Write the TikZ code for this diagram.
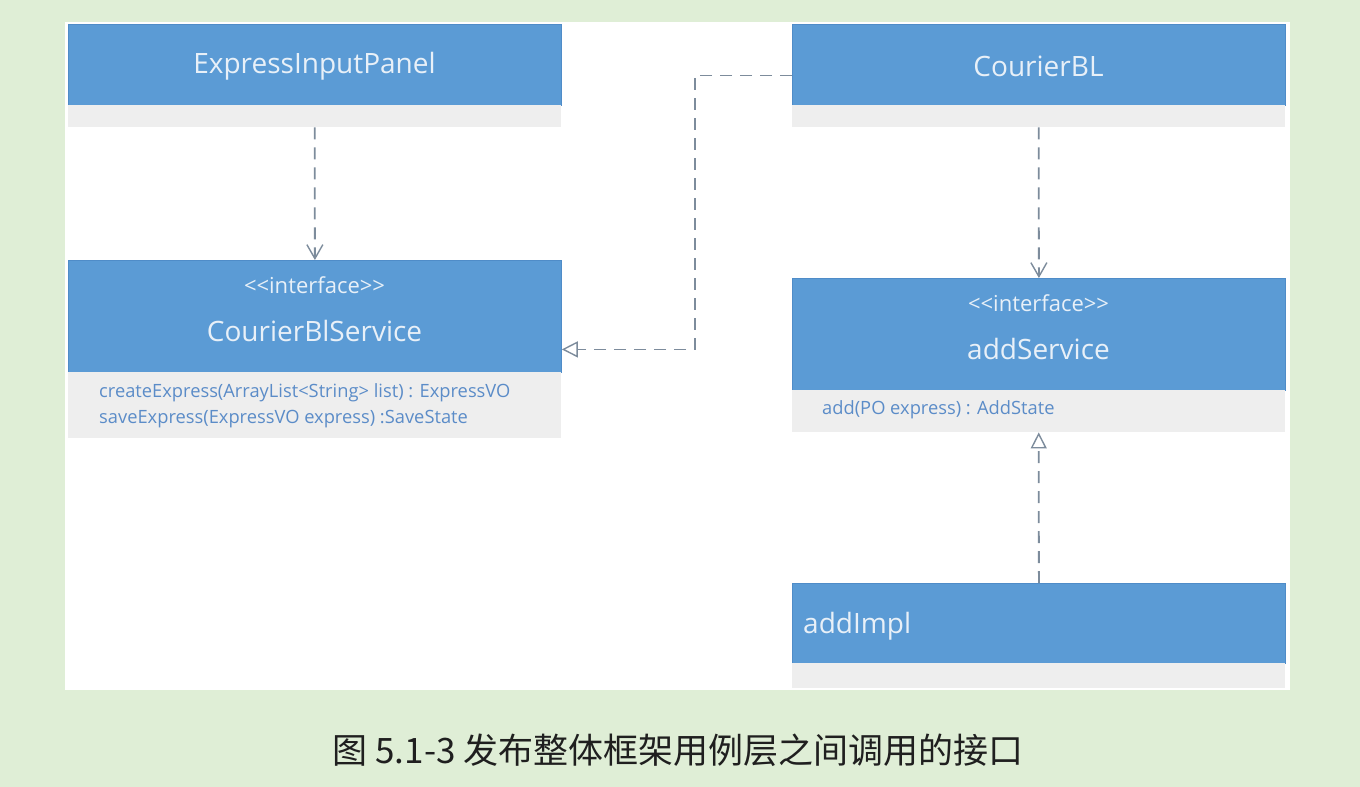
\documentclass[tikz,border=0pt]{standalone}
\usepackage{fontspec}
\setmainfont{Open Sans}
\newfontfamily\cjk{Noto Sans CJK SC}
\usetikzlibrary{arrows.meta}
\definecolor{bgG}{HTML}{DFEED6}
\definecolor{ublue}{HTML}{5B9BD5}
\definecolor{uedge}{HTML}{4F8CC8}
\definecolor{compg}{HTML}{EEEEEE}
\definecolor{htext}{HTML}{E8F0F8}
\definecolor{mtext}{HTML}{5B8CC8}
\definecolor{lineg}{HTML}{7D8C9C}
\begin{document}
\begin{tikzpicture}[x=1pt,y=-1pt,
  hdr/.style={fill=ublue,draw=uedge,line width=0.8pt,minimum width=493pt,inner sep=0pt,anchor=north west,text=htext},
  comp/.style={fill=compg,minimum width=493pt,inner sep=0pt,anchor=north west},
  title/.style={font=\fontsize{28}{32}\selectfont,text=htext,inner sep=0pt},
  stereo/.style={font=\fontsize{22}{24}\selectfont,text=htext,inner sep=0pt},
  meth/.style={font=\fontsize{18.3}{22}\selectfont,text=mtext,inner sep=0pt,anchor=west},
  dep/.style={draw=lineg,line width=1.8pt,dash pattern=on 12pt off 8pt,-{Straight Barb[length=14pt,width=16pt,line width=1.4pt]}},
  real/.style={draw=lineg,line width=1.8pt,dash pattern=on 12pt off 8pt,-{Triangle[open,length=16pt,width=16pt,line width=1.4pt,fill=white]}}
]
\useasboundingbox (0,0) rectangle (1360,787);
\fill[bgG] (0,0) rectangle (1360,787);
\fill[white] (65,22) rectangle (1290,690);

% ExpressInputPanel
\node[hdr,minimum height=81pt] (eip) at (68,24) {};
\node[title] at (314.5,66) {ExpressInputPanel};
\node[comp,minimum height=22pt] (eipC) at (68,105) {};

% CourierBlService
\node[hdr,minimum height=112pt] (cbs) at (68,260) {};
\node[stereo] at (314.5,285) {{<}{<}interface{>}{>}};
\node[title] at (314.5,331) {CourierBlService};
\node[comp,minimum height=66pt] (cbsC) at (68,372) {};
\node[meth] at (99,393) {createExpress(ArrayList<String> list) : ExpressVO};
\node[meth] at (99,419) {saveExpress(ExpressVO express) :SaveState};

% CourierBL
\node[hdr,minimum height=81pt] (cbl) at (792,24) {};
\node[title] at (1038.5,66) {CourierBL};
\node[comp,minimum height=22pt] (cblC) at (792,105) {};

% addService
\node[hdr,minimum height=112pt] (asv) at (792,278) {};
\node[stereo] at (1038.5,303) {{<}{<}interface{>}{>}};
\node[title] at (1038.5,349) {addService};
\node[comp,minimum height=42pt] (asvC) at (792,390) {};
\node[meth] at (822,410) {add(PO express) : AddState};

% addImpl
\node[hdr,minimum height=80pt] (aim) at (792,583) {};
\node[title,anchor=west] at (803,626) {addImpl};
\node[comp,minimum height=25pt] (aimC) at (792,663) {};

% connectors
\draw[dep] (eipC.south) -- (cbs.north);
\draw[dep] (cblC.south) -- (asv.north);
\draw[real] (aim.north) -- (asvC.south);
\draw[real] ([yshift=-10.5pt]cbl.west) -- ++(-97,0) |- ([yshift=-33pt]cbs.east);

% caption
\node[font=\cjk\fontsize{35}{38}\selectfont,text=black!88] at (678,750) {图 5.1-3 发布整体框架用例层之间调用的接口};
\end{tikzpicture}
\end{document}
